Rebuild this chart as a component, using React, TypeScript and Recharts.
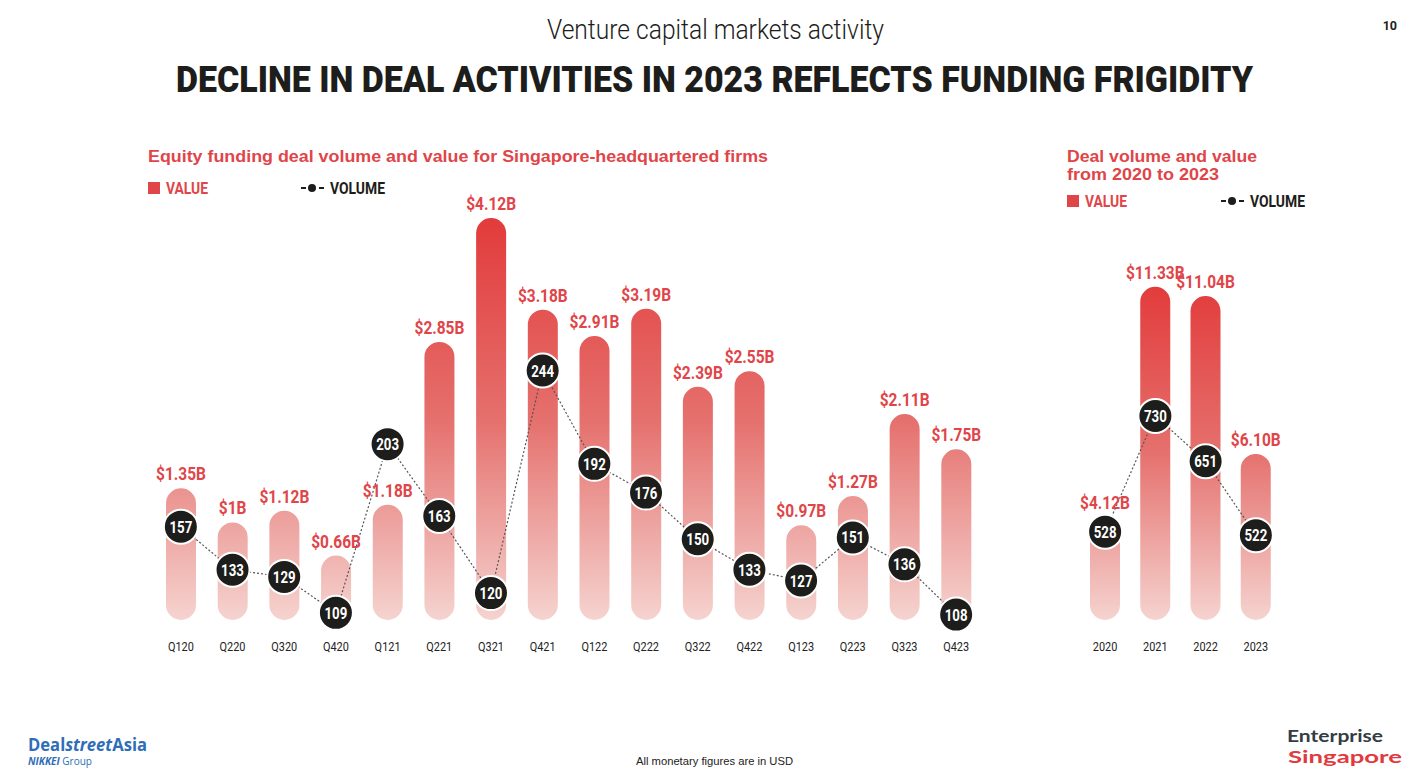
import React from 'react';
import { ComposedChart, Bar, Line, XAxis, YAxis, LabelList } from 'recharts';

const quarters = ['Q120', 'Q220', 'Q320', 'Q420', 'Q121', 'Q221', 'Q321', 'Q421', 'Q122', 'Q222', 'Q322', 'Q422', 'Q123', 'Q223', 'Q323', 'Q423'];
const quarterValue = [1.35, 1.0, 1.12, 0.66, 1.18, 2.85, 4.12, 3.18, 2.91, 3.19, 2.39, 2.55, 0.97, 1.27, 2.11, 1.75];
const quarterValueLabel = ['$1.35B', '$1B', '$1.12B', '$0.66B', '$1.18B', '$2.85B', '$4.12B', '$3.18B', '$2.91B', '$3.19B', '$2.39B', '$2.55B', '$0.97B', '$1.27B', '$2.11B', '$1.75B'];
const quarterVolume = [157, 133, 129, 109, 203, 163, 120, 244, 192, 176, 150, 133, 127, 151, 136, 108];

const years = ['2020', '2021', '2022', '2023'];
const yearValue = [4.12, 11.33, 11.04, 6.1];
const yearValueLabel = ['$4.12B', '$11.33B', '$11.04B', '$6.10B'];
const yearVolume = [528, 730, 651, 522];

const quarterData = quarters.map((q, i) => ({
  name: q,
  value: quarterValue[i],
  label: quarterValueLabel[i],
  volume: quarterVolume[i],
}));

const yearData = years.map((y, i) => ({
  name: y,
  value: yearValue[i],
  label: yearValueLabel[i],
  volume: yearVolume[i],
}));

const RED = '#df4549';
const COND = 'Roboto, sans-serif';

// squeeze text horizontally around its anchor point
const squeeze = (x: number, k: number) => `translate(${x} 0) scale(${k} 1) translate(${-x} 0)`;

const ValueLabel = (props: any) => {
  const { x, y, width, value } = props;
  const cx = x + width / 2;
  return (
    <text x={cx} y={y - 8} textAnchor="middle" fill={RED} fontFamily={COND} fontWeight={700} fontSize={18}
      transform={squeeze(cx, 0.86)}>
      {value}
    </text>
  );
};

const VolumeDot = (props: any) => {
  const { cx, cy, value, index } = props;
  return (
    <g key={`dot-${index}`}>
      <circle cx={cx} cy={cy} r={17} fill="#1d1d1b" stroke="#fff" strokeWidth={2} />
      <text x={cx} y={cy + 6} textAnchor="middle" fill="#fff" fontFamily={COND} fontWeight={700} fontSize={17}
        transform={squeeze(cx, 0.78)}>
        {value}
      </text>
    </g>
  );
};

const AxisTick = (props: any) => {
  const { x, y, payload } = props;
  return (
    <text x={x} y={y + 31} textAnchor="middle" fill="#222" fontFamily={COND} fontSize={13}
      transform={squeeze(x, 0.84)}>
      {payload.value}
    </text>
  );
};

function DealChart({ data, width, top, left, right, valueDomain, volumeDomain, gradId }: any) {
  return (
    <ComposedChart width={width} height={700} data={data} margin={{ top, right, bottom: 40, left }}>
      <defs>
        <linearGradient id={gradId} gradientUnits="userSpaceOnUse" x1={0} y1={top} x2={0} y2={620}>
          <stop offset="0%" stopColor="#e23b3b" />
          <stop offset="50%" stopColor="#e5706d" />
          <stop offset="100%" stopColor="#f5d3cf" />
        </linearGradient>
      </defs>
      <XAxis dataKey="name" axisLine={false} tickLine={false} tickSize={0} tickMargin={0} height={40}
        interval={0} tick={<AxisTick />} />
      <YAxis yAxisId="value" hide domain={valueDomain} />
      <YAxis yAxisId="volume" hide domain={volumeDomain} />
      <Bar yAxisId="value" dataKey="value" barSize={30} radius={15} fill={`url(#${gradId})`} isAnimationActive={false}>
        <LabelList dataKey="label" content={<ValueLabel />} />
      </Bar>
      <Line yAxisId="volume" dataKey="volume" stroke="#555" strokeWidth={1.2} strokeDasharray="2 2"
        dot={VolumeDot} activeDot={false} isAnimationActive={false} />
    </ComposedChart>
  );
}

function Legend({ x, y, volumeX }: { x: number; y: number; volumeX: number }) {
  return (
    <g>
      <rect x={x} y={y - 12} width={12} height={12} fill={RED} />
      <text x={x + 18} y={y} fill={RED} fontFamily={COND} fontWeight={700} fontSize={16} textLength={42}
        lengthAdjust="spacingAndGlyphs">VALUE</text>
      <line x1={volumeX} x2={volumeX + 5} y1={y - 6} y2={y - 6} stroke="#1d1d1b" strokeWidth={2} />
      <circle cx={volumeX + 11} cy={y - 6} r={4} fill="#1d1d1b" />
      <line x1={volumeX + 18} x2={volumeX + 23} y1={y - 6} y2={y - 6} stroke="#1d1d1b" strokeWidth={2} />
      <text x={volumeX + 29} y={y} fill="#1d1d1b" fontFamily={COND} fontWeight={700} fontSize={16} textLength={55}
        lengthAdjust="spacingAndGlyphs">VOLUME</text>
    </g>
  );
}

export default function App() {
  return (
    <div style={{ position: 'absolute', left: 0, top: 0, width: 1413, height: 783, background: '#fff', overflow: 'hidden' }}>
      <svg width={1413} height={783} style={{ position: 'absolute', left: 0, top: 0 }}>
        <text x={547} y={39} fill="#1d1d1b" fontFamily={COND} fontWeight={300} fontSize={27} textLength={337}
          lengthAdjust="spacingAndGlyphs">Venture capital markets activity</text>
        <text x={176} y={92} fill="#1d1d1b" fontFamily={COND} fontWeight={900} fontSize={36} textLength={1077}
          lengthAdjust="spacingAndGlyphs">DECLINE IN DEAL ACTIVITIES IN 2023 REFLECTS FUNDING FRIGIDITY</text>
        <text x={1397} y={30} textAnchor="end" fill="#1d1d1b" fontFamily={COND} fontWeight={700} fontSize={12.5}>10</text>

        <text x={148} y={162} fill={RED} fontFamily="'Liberation Sans', Arial, sans-serif" fontWeight={700} fontSize={16}
          textLength={620} lengthAdjust="spacingAndGlyphs">
          Equity funding deal volume and value for Singapore-headquartered firms
        </text>
        <Legend x={148} y={194} volumeX={301} />

        <text fill={RED} fontFamily="'Liberation Sans', Arial, sans-serif" fontWeight={700} fontSize={16}>
          <tspan x={1067} y={162} textLength={190} lengthAdjust="spacingAndGlyphs">Deal volume and value</tspan>
          <tspan x={1067} y={180} textLength={152} lengthAdjust="spacingAndGlyphs">from 2020 to 2023</tspan>
        </text>
        <Legend x={1067} y={207} volumeX={1221} />

        <text x={636} y={765} fill="#222" fontFamily="'Liberation Sans', Arial, sans-serif" fontSize={11}
          textLength={157} lengthAdjust="spacingAndGlyphs">All monetary figures are in USD</text>

        <text x={28} y={751} fill="#2e6eb8" fontFamily="'Open Sans', sans-serif" fontWeight={700} fontSize={17}
          textLength={119} lengthAdjust="spacingAndGlyphs">
          Deal<tspan fontStyle="italic">street</tspan>Asia
        </text>
        <text x={28} y={765} fill="#2e6eb8" fontFamily="'Open Sans', sans-serif" fontSize={10}
          textLength={64} lengthAdjust="spacingAndGlyphs">
          <tspan fontWeight={700} fontStyle="italic">NIKKEI</tspan> Group
        </text>

        <text x={1287} y={742} fill="#333d43" fontFamily="Lato, sans-serif" fontWeight={700} fontSize={17}
          textLength={96} lengthAdjust="spacingAndGlyphs">Enterprise</text>
        <text x={1288} y={763} fill="#e0393e" fontFamily="Lato, sans-serif" fontWeight={700} fontSize={17}
          textLength={114} lengthAdjust="spacingAndGlyphs">Singapore</text>
      </svg>

      <div style={{ position: 'absolute', left: 0, top: 0 }}>
        <DealChart data={quarterData} width={1000} top={218} left={155} right={18}
          valueDomain={[0, 4.12]} volumeDomain={[105, 329]} gradId="qGrad" />
      </div>
      <div style={{ position: 'absolute', left: 1000, top: 0 }}>
        <DealChart data={yearData} width={413} top={283} left={80} right={132}
          valueDomain={[0.9, 11.45]} volumeDomain={[374, 962]} gradId="yGrad" />
      </div>
    </div>
  );
}
